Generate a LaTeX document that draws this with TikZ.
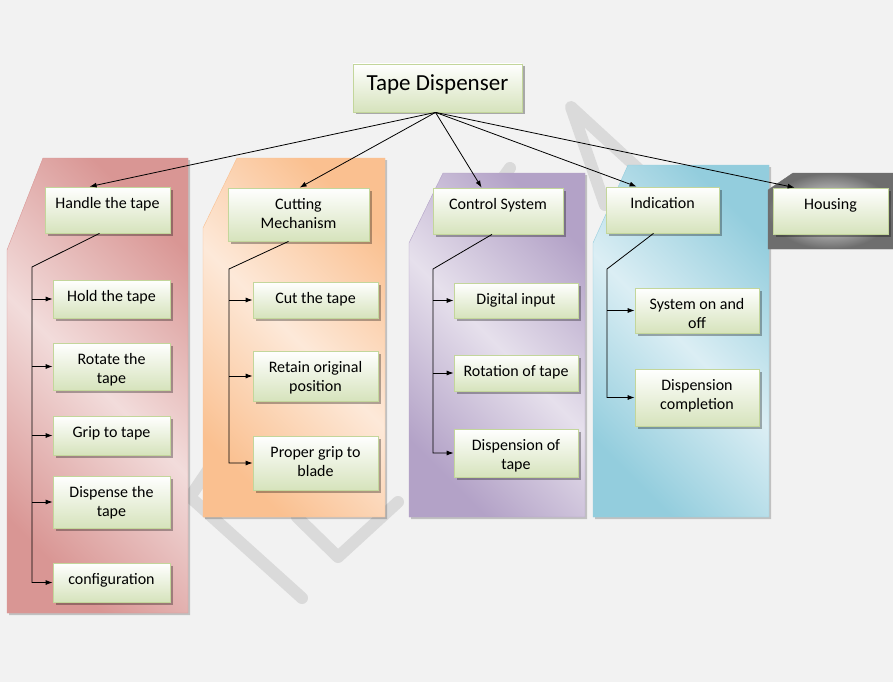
\documentclass[tikz,border=0pt]{standalone}
\usepackage{fontspec}
\setmainfont{Carlito}
\usetikzlibrary{arrows.meta,shadows,fit}

\definecolor{bgcol}{HTML}{F2F2F2}
\definecolor{wmarkgray}{HTML}{DADADA}
\definecolor{boxfill}{HTML}{D6E3BC}
\definecolor{boxedge}{HTML}{C3D69B}
\definecolor{pinkdk}{HTML}{D99694}
\definecolor{pinklt}{HTML}{F2DCDB}
\definecolor{orangedk}{HTML}{FAC090}
\definecolor{orangelt}{HTML}{FDE9D9}
\definecolor{purpledk}{HTML}{B3A2C7}
\definecolor{purplelt}{HTML}{E6E0EC}
\definecolor{bluedk}{HTML}{93CDDD}
\definecolor{bluelt}{HTML}{DBEEF4}
\definecolor{housedk}{HTML}{6E6E6E}

\pgfdeclarehorizontalshading{pinkband}{100bp}{color(0bp)=(pinkdk); color(25bp)=(pinkdk); color(50bp)=(pinklt); color(75bp)=(pinkdk); color(100bp)=(pinkdk)}
\pgfdeclarehorizontalshading{orangeband}{100bp}{color(0bp)=(orangedk); color(25bp)=(orangedk); color(50bp)=(orangelt); color(75bp)=(orangedk); color(100bp)=(orangedk)}
\pgfdeclarehorizontalshading{purpleband}{100bp}{color(0bp)=(purpledk); color(25bp)=(purpledk); color(50bp)=(purplelt); color(75bp)=(purpledk); color(100bp)=(purpledk)}
\pgfdeclarehorizontalshading{blueband}{100bp}{color(0bp)=(bluedk); color(25bp)=(bluedk); color(50bp)=(bluelt); color(75bp)=(bluedk); color(100bp)=(bluedk)}

\tikzset{
  item/.style={draw=boxedge, line width=0.8pt, top color=white, bottom color=boxfill, inner sep=0pt,
    drop shadow={shadow xshift=2.5pt, shadow yshift=-2.5pt, fill=black, opacity=0.3}},
  txt/.style={anchor=north, yshift=-7pt, font=\fontsize{16}{19}\selectfont, align=center},
  branch/.style={line width=0.8pt},
  wmark/.style={draw=wmarkgray, line width=12pt, line cap=round, line join=round},
  colshadow/.style={fill=black, opacity=0.2, xshift=2pt, yshift=-2pt},
}

\begin{document}
\begin{tikzpicture}[x=1pt, y=-1pt, >={Latex[length=7pt,width=5pt]}]
\fill[bgcol] (0,0) rectangle (893,682);
\useasboundingbox (0,0) rectangle (893,682);

% watermark
\draw[wmark] (225,445) -- (190,497) -- (302,598);
\draw[wmark] (297,517) -- (338,557) -- (398,502);
\draw[wmark] (605,205) -- (571,107) -- (645,175);
\draw[wmark] (510,168) -- (480,210);

% columns
\fill[colshadow] (43,158) -- (188,158) -- (188,613) -- (7,613) -- (7,250) -- cycle;
\shade[shading=pinkband, shading angle=45, draw=pinkdk] (43,158) -- (188,158) -- (188,613) -- (7,613) -- (7,250) -- cycle;
\fill[colshadow] (237,158) -- (385,158) -- (385,517) -- (203,517) -- (203,228) -- cycle;
\shade[shading=orangeband, shading angle=45, draw=orangedk] (237,158) -- (385,158) -- (385,517) -- (203,517) -- (203,228) -- cycle;
\fill[colshadow] (443,173) -- (585,173) -- (585,517) -- (409,517) -- (409,243) -- cycle;
\shade[shading=purpleband, shading angle=45, draw=purpledk] (443,173) -- (585,173) -- (585,517) -- (409,517) -- (409,243) -- cycle;
\fill[colshadow] (628,165) -- (769,165) -- (769,517) -- (593,517) -- (593,243) -- cycle;
\shade[shading=blueband, shading angle=45, draw=bluedk] (628,165) -- (769,165) -- (769,517) -- (593,517) -- (593,243) -- cycle;
\shade[inner color=white, outer color=housedk, draw=housedk] (793,173) -- (893,173) -- (893,249) -- (768,249) -- (768,190) -- cycle;

% boxes
\node[item, fit={(353,64) (522,112)}, label={[txt, yshift=-1pt, font=\fontsize{23}{27}\selectfont]north:Tape Dispenser}] (root) {};
\node[item, fit={(45,187) (170,233)}, label={[txt]north:Handle the tape}] (handle) {};
\node[item, fit={(228,188) (369,241)}, label={[txt]north:Cutting\\Mechanism}] (cutting) {};
\node[item, fit={(433,188) (563,234)}, label={[txt]north:Control System}] (control) {};
\node[item, fit={(606,187) (719,233)}, label={[txt]north:Indication}] (indication) {};
\node[item, fit={(773,188) (888,234)}, label={[txt]north:Housing}] (housing) {};

\node[item, fit={(53,280) (170,318)}, label={[txt]north:Hold the tape}] (hold) {};
\node[item, fit={(53,343) (170,390)}, label={[txt]north:Rotate the\\tape}] (rotate) {};
\node[item, fit={(53,416) (170,455)}, label={[txt]north:Grip to tape}] (grip) {};
\node[item, fit={(53,476) (170,528)}, label={[txt]north:Dispense the\\tape}] (dispense) {};
\node[item, fit={(53,563) (170,602)}, label={[txt]north:configuration}] (config) {};

\node[item, fit={(253,282) (378,318)}, label={[txt]north:Cut the tape}] (cut) {};
\node[item, fit={(253,351) (378,401)}, label={[txt]north:Retain original\\position}] (retain) {};
\node[item, fit={(253,436) (378,490)}, label={[txt]north:Proper grip to\\blade}] (proper) {};

\node[item, fit={(454,283) (578,318)}, label={[txt]north:Digital input}] (digital) {};
\node[item, fit={(454,355) (578,391)}, label={[txt]north:Rotation of tape}] (rotation) {};
\node[item, fit={(454,429) (578,477)}, label={[txt]north:Dispension of\\tape}] (dispension) {};

\node[item, fit={(635,288) (759,333)}, label={[txt]north:System on and\\off}] (onoff) {};
\node[item, fit={(635,369) (759,426)}, label={[txt]north:Dispension\\completion}] (completion) {};

% top connectors
\draw[branch,->] ([xshift=-2pt]root.south) -- ([xshift=45pt]handle.north west);
\draw[branch,->] ([xshift=-2pt]root.south) -- ([xshift=72pt]cutting.north west);
\draw[branch,->] ([xshift=-2pt]root.south) -- ([xshift=49pt]control.north west);
\draw[branch,->] ([xshift=-2pt]root.south) -- ([xshift=31pt]indication.north west);
\draw[branch,->] ([xshift=-2pt]root.south) -- ([xshift=22pt]housing.north west);

% branches
\coordinate (hbus) at (32,267);
\draw[branch,->] ([xshift=-8pt]handle.south) -- (hbus) |- (config.west);
\foreach \n in {hold,rotate,grip,dispense}
  \draw[branch,->] (hbus |- \n.west) -- (\n.west);

\coordinate (cbus) at (229,269);
\draw[branch,->] ([xshift=-10pt]cutting.south) -- (cbus) |- (proper.west);
\foreach \n in {cut,retain}
  \draw[branch,->] (cbus |- \n.west) -- (\n.west);

\coordinate (sbus) at (433,269);
\draw[branch,->] ([xshift=-6pt]control.south) -- (sbus) |- (dispension.west);
\foreach \n in {digital,rotation}
  \draw[branch,->] (sbus |- \n.west) -- (\n.west);

\coordinate (ibus) at (607,269);
\draw[branch,->] ([xshift=-9pt]indication.south) -- (ibus) |- (completion.west);
\draw[branch,->] (ibus |- onoff.west) -- (onoff.west);
\end{tikzpicture}
\end{document}
